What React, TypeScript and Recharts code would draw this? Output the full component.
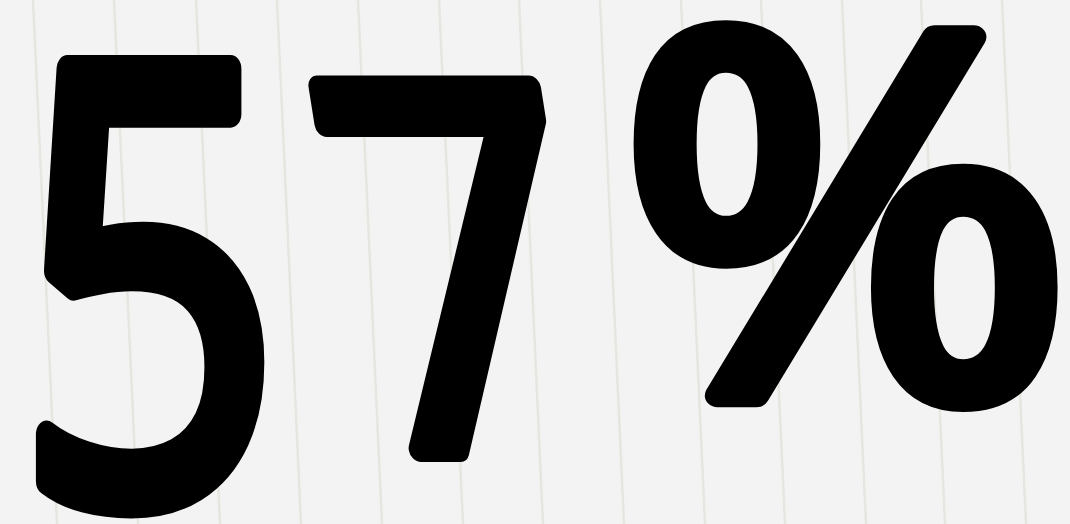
import React, { useMemo } from 'react';
import { ComposedChart, XAxis, YAxis, Scatter } from 'recharts';

// headline figure
const value = [57];
const unit = ['%'];

// notebook rulings (x at top edge), they lean a little to the right going down
const rulingTops = [33, 114, 196, 277, 358, 439, 519, 600, 681, 761, 842, 921, 1002];
const rulingLean = 24;

const W = 1070;
const H = 524;
const BG = '#f3f3f3';
const RULE = '#e6e6e0';

const FONT_FAMILY = 'Open Sans';
const FONT_SIZE = 600;
const STROKE = 28;

// ink box each glyph should fill: [left, top, width, height, skew deg]
const glyphBoxes: [number, number, number, number, number][] = [
  [35, 52, 230, 470, 0],
  [300, 73, 243, 389, 9],
  [632, 15, 428, 400, 0],
];

type Ink = { left: number; right: number; ascent: number; descent: number };

const measureInk = (ch: string): Ink => {
  try {
    const ctx = document.createElement('canvas').getContext('2d');
    if (!ctx) throw new Error('no canvas');
    ctx.font = `400 ${FONT_SIZE}px "${FONT_FAMILY}"`;
    const m = ctx.measureText(ch);
    return {
      left: m.actualBoundingBoxLeft,
      right: m.actualBoundingBoxRight,
      ascent: m.actualBoundingBoxAscent,
      descent: m.actualBoundingBoxDescent,
    };
  } catch (e) {
    return { left: -20, right: 320, ascent: 430, descent: 5 };
  }
};

const BigFigure = ({ text }: { text: string }) => {
  const placed = useMemo(
    () =>
      text.split('').map((ch, i) => {
        const ink = measureInk(ch);
        const [bx, by, bw, bh, skew] = glyphBoxes[i];
        const inkW = ink.left + ink.right + STROKE;
        const inkH = ink.ascent + ink.descent + STROKE;
        const sx = bw / inkW;
        const sy = bh / inkH;
        const tx = bx + (ink.left + STROKE / 2) * sx;
        const ty = by + (ink.ascent + STROKE / 2) * sy;
        return {
          ch,
          lean: `translate(${bx} ${by}) skewX(${skew}) translate(${-bx} ${-by})`,
          transform: `translate(${tx} ${ty}) scale(${sx} ${sy})`,
        };
      }),
    [text]
  );

  return (
    <g>
      {placed.map((p, i) => (
        <g key={i} transform={p.lean}>
          <text
            x={0}
            y={0}
            transform={p.transform}
            fontFamily={FONT_FAMILY}
            fontSize={FONT_SIZE}
            fontWeight={400}
            fill="#000"
            stroke="#000"
            strokeWidth={STROKE}
            strokeLinejoin="round"
            strokeLinecap="round"
          >
            {p.ch}
          </text>
        </g>
      ))}
    </g>
  );
};

export default function App() {
  const figure = value.map((v, i) => ({ x: 0, y: 0, label: `${v}${unit[i]}` }));
  return (
    <div style={{ position: 'absolute', left: 0, top: 0, width: W, height: H, background: BG }}>
      <ComposedChart width={W} height={H} margin={{ top: 0, right: 0, bottom: 0, left: 0 }}>
        <XAxis type="number" dataKey="x" domain={[0, W]} allowDataOverflow hide />
        <YAxis type="number" dataKey="y" domain={[0, H]} allowDataOverflow reversed hide />
        {rulingTops.map((x) => (
          <Scatter
            key={x}
            data={[
              { x, y: 0 },
              { x: x + rulingLean, y: H },
            ]}
            line={{ stroke: RULE, strokeWidth: 2.5 }}
            shape={() => <g />}
            isAnimationActive={false}
          />
        ))}
        <Scatter
          data={figure}
          shape={(props: any) => <BigFigure text={props.payload?.label ?? figure[0].label} />}
          isAnimationActive={false}
        />
      </ComposedChart>
    </div>
  );
}
